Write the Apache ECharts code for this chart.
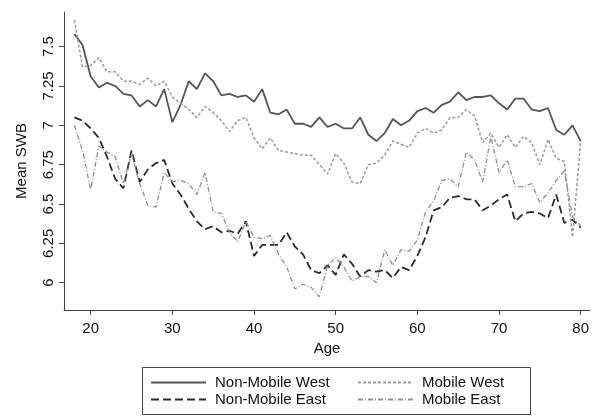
<!DOCTYPE html>
<html>
<head>
<meta charset="utf-8">
<script src="https://cdn.jsdelivr.net/npm/echarts@6/dist/echarts.min.js"></script>
<style>
  html, body { margin: 0; padding: 0; background: #fff; }
  #chart { width: 600px; height: 418px; }
</style>
</head>
<body>
<div id="chart"></div>
<script>
// Mean subjective well-being by age, split by mobility and region
const ages = [];
for (let a = 18; a <= 80; a++) ages.push(a);

const nonMobileWest = [
  7.58, 7.51, 7.31, 7.24, 7.27, 7.25, 7.20, 7.19, 7.12, 7.16,
  7.12, 7.23, 7.02, 7.13, 7.28, 7.23, 7.33, 7.28, 7.19, 7.20,
  7.18, 7.19, 7.15, 7.23, 7.08, 7.07, 7.10, 7.01, 7.01, 6.99,
  7.05, 6.99, 7.01, 6.98, 6.98, 7.05, 6.94, 6.90, 6.95, 7.04,
  7.00, 7.03, 7.09, 7.11, 7.08, 7.13, 7.15, 7.21, 7.16, 7.18,
  7.18, 7.19, 7.14, 7.10, 7.17, 7.17, 7.10, 7.09, 7.11, 6.97,
  6.94, 7.00, 6.90
];
const mobileWest = [
  7.67, 7.37, 7.38, 7.43, 7.34, 7.34, 7.28, 7.28, 7.26, 7.30,
  7.25, 7.28, 7.18, 7.14, 7.10, 7.05, 7.12, 7.08, 7.03, 6.96,
  7.03, 7.05, 6.92, 6.85, 6.92, 6.84, 6.83, 6.82, 6.81, 6.81,
  6.75, 6.69, 6.82, 6.76, 6.64, 6.63, 6.75, 6.76, 6.81, 6.90,
  6.88, 6.86, 6.95, 6.98, 6.95, 6.97, 7.05, 7.05, 7.10, 7.06,
  6.89, 6.95, 6.86, 6.94, 6.86, 6.93, 6.89, 6.75, 6.91, 6.79,
  6.77, 6.29, 6.90
];
const nonMobileEast = [
  7.05, 7.03, 6.98, 6.92, 6.80, 6.66, 6.60, 6.84, 6.64, 6.72,
  6.76, 6.78, 6.63, 6.56, 6.47, 6.39, 6.34, 6.36, 6.32, 6.33,
  6.31, 6.39, 6.17, 6.24, 6.24, 6.24, 6.32, 6.23, 6.18, 6.08,
  6.06, 6.11, 6.05, 6.18, 6.12, 6.04, 6.08, 6.07, 6.08, 6.03,
  6.10, 6.08, 6.17, 6.29, 6.46, 6.48, 6.54, 6.55, 6.53, 6.53,
  6.46, 6.49, 6.53, 6.56, 6.39, 6.44, 6.45, 6.44, 6.41, 6.56,
  6.38, 6.40, 6.35
];
const mobileEast = [
  7.00, 6.84, 6.59, 6.87, 6.83, 6.80, 6.63, 6.82, 6.63, 6.49,
  6.48, 6.70, 6.64, 6.65, 6.63, 6.56, 6.70, 6.45, 6.44, 6.32,
  6.26, 6.39, 6.29, 6.28, 6.30, 6.18, 6.10, 5.96, 5.99, 5.97,
  5.91, 6.11, 6.16, 6.10, 6.01, 6.04, 6.04, 6.00, 6.21, 6.11,
  6.21, 6.20, 6.27, 6.45, 6.52, 6.65, 6.66, 6.61, 6.83, 6.78,
  6.64, 6.93, 6.70, 6.78, 6.61, 6.61, 6.63, 6.51, 6.57, 6.65,
  6.71, 6.42, 6.36
];

const xTicks = [20, 30, 40, 50, 60, 70, 80];
const yTicks = [6, 6.25, 6.5, 6.75, 7, 7.25, 7.5];

const FONT = '"Liberation Sans", Arial, sans-serif';
const FS = 15;
const pairs = vals => ages.map((a, i) => [a, vals[i]]);

function lineSeries(name, vals, color, width, type) {
  return {
    name: name,
    type: 'line',
    data: pairs(vals),
    symbol: 'none',
    showSymbol: false,
    silent: true,
    animation: false,
    lineStyle: { color: color, width: width, type: type },
    itemStyle: { color: color }
  };
}

// two legend columns inside one framed box
const legendBase = {
  orient: 'vertical',
  top: 370,
  itemWidth: 55,
  itemHeight: 12,
  itemGap: 2,
  selectedMode: false,
  itemStyle: { opacity: 0 },
  textStyle: { fontFamily: FONT, fontSize: FS, color: '#111', padding: [0, 0, 0, 4] }
};

const chart = echarts.init(document.getElementById('chart'), null, { renderer: 'canvas' });
chart.setOption({
  backgroundColor: '#fff',
  animation: false,
  grid: { left: 64, right: 10, top: 12, bottom: 108 },
  xAxis: {
    type: 'value',
    min: 16.73,
    max: 81.14,
    name: 'Age',
    nameLocation: 'middle',
    nameGap: 30,
    nameTextStyle: { fontFamily: FONT, fontSize: FS, color: '#111' },
    axisLine: { show: true, lineStyle: { color: '#444', width: 1 } },
    axisTick: { show: true, length: 5, customValues: xTicks, lineStyle: { color: '#444' } },
    axisLabel: { customValues: xTicks, margin: 11, fontFamily: FONT, fontSize: FS, color: '#111' },
    splitLine: { show: false }
  },
  yAxis: {
    type: 'value',
    min: 5.8265,
    max: 7.72,
    name: 'Mean SWB',
    nameLocation: 'middle',
    nameGap: 35,
    nameRotate: 90,
    nameTextStyle: { fontFamily: FONT, fontSize: FS, color: '#111' },
    axisLine: { show: true, lineStyle: { color: '#444', width: 1 } },
    axisTick: { show: true, length: 5, customValues: yTicks, lineStyle: { color: '#444' } },
    axisLabel: { customValues: yTicks, rotate: 90, margin: 8, fontFamily: FONT, fontSize: FS, color: '#111' },
    splitLine: { show: false }
  },
  legend: [
    Object.assign({}, legendBase, { left: 145, data: ['Non-Mobile West', 'Non-Mobile East'] }),
    Object.assign({}, legendBase, { left: 352, data: ['Mobile West', 'Mobile East'] })
  ],
  graphic: [{
    type: 'rect',
    left: 140,
    top: 365,
    shape: { width: 388, height: 47 },
    style: { fill: 'none', stroke: '#444', lineWidth: 1 },
    silent: true
  }],
  series: [
    lineSeries('Non-Mobile West', nonMobileWest, '#555555', 1.8, 'solid'),
    lineSeries('Non-Mobile East', nonMobileEast, '#2a2a2a', 1.8, [8, 4]),
    lineSeries('Mobile West', mobileWest, '#9a9a9a', 1.5, [3, 2]),
    lineSeries('Mobile East', mobileEast, '#8f8f8f', 1.3, [5, 2, 1, 2])
  ]
});
</script>
</body>
</html>
